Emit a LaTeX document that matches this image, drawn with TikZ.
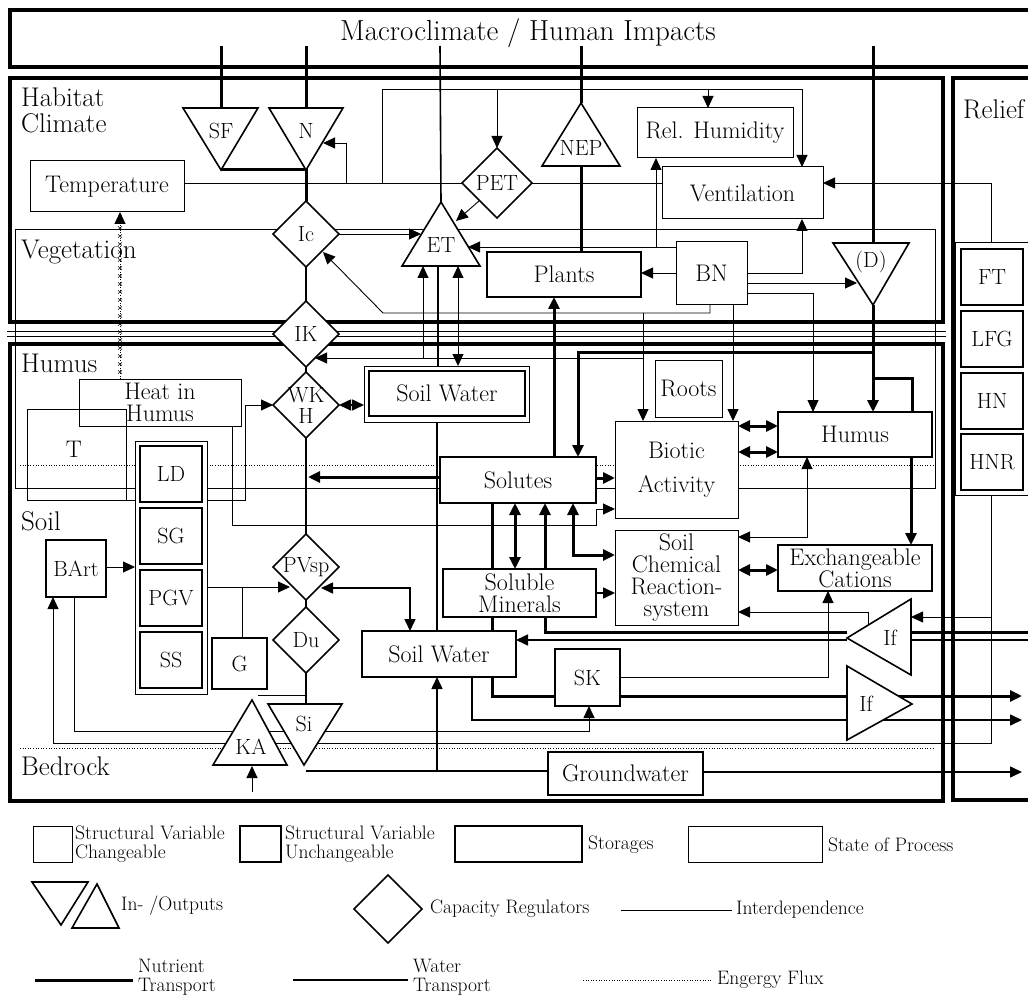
\documentclass[tikz,border=0pt]{standalone}
\usetikzlibrary{arrows.meta,shapes.geometric}
\pgfdeclarelayer{frame}
\pgfdeclarelayer{wires}
\pgfsetlayers{frame,wires,main}
\newcommand\fsmac{\fontsize{29}{30}\selectfont}
\newcommand\fsreg{\fontsize{27}{26}\selectfont}
\newcommand\fsbox{\fontsize{24}{22}\selectfont}
\newcommand\fslab{\fontsize{22}{21}\selectfont}
\newcommand\fsleg{\fontsize{19.5}{18.5}\selectfont}
\tikzset{
  base/.style={inner sep=0pt, outer sep=0pt, align=center, font=\fsbox},
  pbox/.style={base, draw, line width=1pt, fill=white},
  obox/.style={base, draw, line width=1pt},
  sbox/.style={base, draw, line width=2.6pt, fill=white},
  ubox/.style={base, draw, line width=2pt, fill=white},
  lab/.style={inner sep=0pt, font=\fslab, align=center},
  reg/.style={inner sep=0pt, font=\fsreg, anchor=north west, align=left},
  leg/.style={inner sep=0pt, font=\fsleg, anchor=west, align=left},
  dia/.style={draw, diamond, fill=white, line width=1.6pt, minimum width=66pt, minimum height=66pt, inner sep=0pt, outer sep=0pt},
  shp/.style={draw, fill=white, line width=1.6pt},
  nut/.style={line width=3pt},
  wat/.style={line width=1.6pt},
  vln/.style={line width=1.3pt},
  itd/.style={line width=0.9pt},
  frm/.style={line width=3.6pt},
  en/.style={line width=0.9pt, dash pattern=on 0.9pt off 1.7pt},
}
\begin{document}
\begin{tikzpicture}[x=1pt,y=-1pt,>={Triangle[length=12pt,width=11pt]},line join=miter]
\useasboundingbox (0,0) rectangle (1028,1000);

% ---------------- frames ----------------
\begin{pgfonlayer}{frame}
\fill[white] (0,0) rectangle (1028,1000);
\draw[frm] (10,10) rectangle (1040,67);
\draw[frm] (10,78) rectangle (943,322);
\draw[frm] (953,78) rectangle (1040,800);
\draw[frm] (10,344) rectangle (943,801);
\draw[itd] (15,229) rectangle (935,488);
\draw[itd] (7,331) -- (946,331);
\draw[itd] (7,336) -- (946,336);
\draw[en] (20,465) -- (933,465);
\draw[en] (20,748) -- (935,748);
\end{pgfonlayer}

% ---------------- labels of regions ----------------
\node[base,font=\fsmac] (macro) at (528,33) {Macroclimate / Human Impacts};
\node[reg] (habl) at (21,88) {Habitat\\Climate};
\node[reg] (vegl) at (21,240) {Vegetation};
\node[reg] (huml) at (21,354) {Humus};
\node[reg] (soill) at (21,511) {Soil};
\node[reg] (bedl) at (21,757) {Bedrock};
\node[reg] (rell) at (963,99) {Relief};

% ---------------- boxes ----------------
\node[pbox, minimum width=154, minimum height=51] (temp) at (107,186.5) {Temperature};
\node[pbox, minimum width=156, minimum height=50] (relh) at (715,133) {Rel. Humidity};
\node[pbox, minimum width=161, minimum height=52] (vent) at (742.5,193) {Ventilation};
\node[sbox, minimum width=154, minimum height=45] (plants) at (564,274.5) {Plants};
\node[pbox, minimum width=71, minimum height=63] (bn) at (711.5,273.5) {BN};
\draw[itd, fill=white] (364,366) rectangle (529,422);
\node[ubox, line width=2.2pt, minimum width=156, minimum height=45] (sw1) at (447,393.5) {Soil Water};
\node[obox, minimum width=162, minimum height=47] (heat) at (160,402.5) {Heat in\\Humus};
\node[obox, minimum width=99, minimum height=91] (tbox) at (76.5,454.5) {};
\node[base] (tlab) at (74,449) {T};
\node[pbox, minimum width=67, minimum height=57] (roots) at (688.5,388.5) {Roots};
\node[pbox, line width=1.4pt, minimum width=156, minimum height=46] (sol) at (518,480) {Solutes};
\node[pbox, font=\fontsize{24}{34}\selectfont, minimum width=123, minimum height=97] (bio) at (676.5,469.5) {Biotic\\Activity};
\node[sbox, minimum width=154, minimum height=45] (hum) at (855,434.5) {Humus};
\node[pbox, minimum width=123, minimum height=95] (chem) at (676.5,577.5) {Soil\\Chemical\\Reaction-\\system};
\node[ubox, minimum width=154, minimum height=46] (exch) at (855,568) {Exchangeable\\Cations};
\node[sbox, minimum width=153, minimum height=48] (smin) at (519.5,593) {Soluble\\Minerals};
\node[sbox, minimum width=154, minimum height=46] (sw2) at (439,654) {Soil Water};
\node[ubox, minimum width=65, minimum height=57, font=\fslab] (sk) at (587.5,677.5) {SK};
\node[sbox, minimum width=155, minimum height=43] (gw) at (625.5,773.5) {Groundwater};
\node[ubox, line width=1.5pt, minimum width=60, minimum height=57, font=\fslab] (bart) at (76,568.5) {BArt};
\node[ubox, line width=1.5pt, minimum width=55, minimum height=51, font=\fslab] (g) at (239.5,663.5) {G};
\node[pbox, minimum width=72, minimum height=253] (col) at (171,567.5) {};
\node[ubox, minimum width=62, minimum height=56, font=\fslab] (ld) at (171,474) {LD};
\node[ubox, minimum width=62, minimum height=56, font=\fslab] (sg) at (171,536) {SG};
\node[ubox, minimum width=62, minimum height=56, font=\fslab] (pgv) at (171,598) {PGV};
\node[ubox, minimum width=62, minimum height=56, font=\fslab] (ss) at (171,660) {SS};
\node[pbox, minimum width=80, minimum height=252] (rcol) at (995,369) {};
\node[ubox, minimum width=62, minimum height=56, font=\fslab] (ft) at (992,277) {FT};
\node[ubox, minimum width=62, minimum height=56, font=\fslab] (lfg) at (992,339) {LFG};
\node[ubox, minimum width=62, minimum height=56, font=\fslab] (hn) at (992,401) {HN};
\node[ubox, minimum width=62, minimum height=56, font=\fslab] (hnr) at (992,462) {HNR};

% ---------------- diamonds ----------------
\node[dia, minimum width=70, minimum height=70] (pet) at (497,183) {};
\node[lab] (petl) at (pet) {PET};
\node[dia] (ic) at (306,234) {};
\node[lab] (icl) at (ic) {Ic};
\node[dia] (ik) at (306,334) {};
\node[lab] (ikl) at (ik) {IK};
\node[dia] (wkh) at (306,405) {};
\node[lab] (wkhl) at (wkh) {WK\\H};
\node[dia] (pvsp) at (306,567) {};
\node[lab] (pvspl) at (pvsp) {PVsp};
\node[dia] (du) at (306,640) {};
\node[lab] (dul) at (du) {Du};

% ---------------- triangles ----------------
\draw[shp] (183,108) -- (258,108) -- (221,170) -- cycle; \node[lab] (sf) at (221,131) {SF};
\draw[shp] (269,108) -- (343,108) -- (306,170) -- cycle; \node[lab] (nn) at (306,131) {N};
\draw[shp] (581,103) -- (620,166) -- (542,166) -- cycle; \node[lab] (nep) at (581,148) {NEP};
\draw[shp] (441,202) -- (480,266) -- (402,266) -- cycle; \node[lab] (et) at (441,245) {ET};
\draw[shp] (833,243) -- (909,243) -- (873,305) -- cycle; \node[lab] (dd) at (871,262) {(D)};
\draw[shp] (847,638) -- (911,599) -- (911,675) -- cycle; \node[lab] (ifa) at (890,638) {If};
\draw[shp] (847,666) -- (912,704) -- (847,740) -- cycle; \node[lab] (ifb) at (866,704) {If};
\draw[shp] (252,700) -- (287,765) -- (213,765) -- cycle; \node[lab] (ka) at (251,747) {KA};
\draw[shp] (268,704) -- (342,704) -- (304,765) -- cycle; \node[lab] (si) at (304,724) {Si};

\coordinate (topsf) at (221,46);
\coordinate (topn) at (306,46);
\coordinate (topet) at (440,46);
\coordinate (topnep) at (581,46);
\coordinate (topd) at (873,46);

% ---------------- connectors ----------------
\begin{pgfonlayer}{wires}
% inputs from macroclimate
\draw[nut] (topsf) -- (221,108);
\draw[nut] (topn) -- (306,108);
\draw[wat] (topet) -- (441,202);
\draw[nut] (topnep) -- (581,103);
\draw[nut] (topd) -- (873,243);
\draw[nut] (221,170) -- (306,170) -- (ic.north);
\draw[vln] (ic.south) -- (ik.north);
\draw[vln] (ik.south) -- (wkh.north);
\draw[vln] (wkh.south) -- (pvsp.north);
\draw[vln] (pvsp.south) -- (du.north);
\draw[vln] (du.south) -- (306,704);
\draw[nut] (581,166) -- (581,252);
% temperature network
\draw[itd] (184,183) -- (pet.west);
\draw[itd,->] (346,183) -- (346,143) -- (323,143);
\draw[itd,->] (382,183) -- (382,89) -- (802,89) -- (802,167);
\draw[itd,->] (497,89) -- (pet.north);
\draw[itd,->] (708,89) -- (708,108);
\draw[itd] (pet.east) -- (662,183);
\draw[itd,->] (479,201) -- (456,221);
\draw[itd,->] (ic.east) -- (421,234);
% BN network
\draw[itd,->] (676,247) -- (468,247);
\draw[itd,->] (656,247) -- (656,158);
\draw[itd,->] (676,273) -- (641,273);
\draw[itd,->] (747,273) -- (802,273) -- (802,219);
\draw[itd,->] (747,283) -- (857,283);
\draw[itd,->] (747,293) -- (813,293) -- (813,412);
\draw[itd,->] (733,305) -- (733,421);
\draw[itd,->] (710,305) -- (710,313) -- (383,313) -- (323,252);
\draw[itd,->] (643,313) -- (643,421);
\draw[itd,->] (643,358) -- (315,358);
\draw[itd,->] (423,358) -- (423,266);
% soil water in humus
\draw[wat] (438,266) -- (438,366);
\draw[wat] (437,422) -- (437,631);
\draw[itd,<->] (458,266) -- (458,366);
\draw[wat,<->] (wkh.east) -- (364,405);
% energy flux
\draw[en,->] (120,379) -- (120,212);
\foreach \yy in {220,228,...,372} {\draw[line width=0.5pt] (118,\yy-1.6) -- (122,\yy+1.6) (118,\yy+1.6) -- (122,\yy-1.6);}
\draw[itd,->] (126,500) -- (245,500) -- (245,405) -- (wkh.west);
\draw[itd,->] (232,426) -- (232,525) -- (596,525) -- (596,509) -- (615,509);
% nutrients
\draw[nut,->] (440,477) -- (308,477);
\draw[nut,->] (554,457) -- (554,297);
\draw[nut,->] (873,305) -- (873,412);
\draw[nut,->] (873,352) -- (578,352) -- (578,457);
\draw[nut] (912,412) -- (912,378) -- (873,378);
\draw[nut,->] (596,478) -- (615,478);
\draw[nut,<->] (738,426) -- (778,426);
\draw[nut,<->] (738,452) -- (778,452);
\draw[itd,<->] (738,537) -- (807,537) -- (807,457);
\draw[nut,->] (911,457) -- (911,545);
\draw[nut,<->] (738,570) -- (778,570);
\draw[nut,<->] (515,503) -- (515,569);
\draw[nut,->] (847,632) -- (545,632) -- (545,503);
\draw[nut,<->] (573,503) -- (573,555) -- (615,555);
\draw[wat,->] (596,593) -- (615,593);
\draw[nut,->] (492,503) -- (492,696) -- (1022,696);
\draw[wat,->] (472,677) -- (472,720) -- (1022,720);
\draw[itd,->] (74,597) -- (74,731) -- (589,731) -- (589,706);
\draw[itd,->] (991,495) -- (991,743) -- (53,743) -- (53,597);
\draw[itd,->] (991,617) -- (911,617);
\draw[itd,->] (868,625) -- (868,612) -- (738,612);
\draw[itd,->] (620,677) -- (828,677) -- (828,591);
\draw[nut] (1030,632) -- (911,632);
\draw[wat] (1030,640) -- (911,640);
\draw[wat,->] (847,640) -- (516,640);
\draw[wat,<->] (321,588) -- (410,588) -- (410,631);
\draw[itd,->] (207,587) -- (290,587);
\draw[itd] (242,587) -- (242,638);
\draw[itd,->] (106,567) -- (135,567);
\draw[itd] (258,695) -- (306,695);
\draw[wat] (306,771) -- (548,771);
\draw[wat,->] (437,771) -- (437,677);
\draw[wat,->] (703,772) -- (1022,772);
\draw[itd,->] (252,792) -- (252,766);
\draw[itd,->] (991,243) -- (991,183) -- (823,183);
\end{pgfonlayer}

% ---------------- legend ----------------
\node[obox, minimum width=39, minimum height=36] (lg1) at (52.5,844) {};
\node[leg] (lg1t) at (75,844) {Structural Variable\\Changeable};
\node[ubox, minimum width=41, minimum height=36] (lg2) at (260.5,844) {};
\node[leg] (lg2t) at (285,844) {Structural Variable\\Unchangeable};
\node[sbox, minimum width=127, minimum height=36] (lg3) at (518.5,844) {};
\node[leg] (lg3t) at (588,845) {Storages};
\node[obox, minimum width=134, minimum height=36] (lg4) at (755,844) {};
\node[leg] (lg4t) at (828,845) {State of Process};
\draw[shp] (32,882) -- (88,882) -- (61,925) -- cycle;
\draw[shp] (97,884) -- (119,928) -- (72,928) -- cycle;
\node[leg] (lg5t) at (121,906) {In- /Outputs};
\node[dia, minimum width=68, minimum height=68] (lg6) at (388,909) {};
\node[leg] (lg6t) at (430,909) {Capacity Regulators};
\draw[itd] (621,910) -- (732,910);
\node[leg] (lg7t) at (736,910) {Interdependence};
\draw[nut] (35,980) -- (133,980);
\node[leg] (lg8t) at (138,977) {Nutrient\\Transport};
\draw[wat] (293,980) -- (408,980);
\node[leg] (lg9t) at (413,977) {Water\\Transport};
\draw[en] (583,980) -- (712,980);
\node[leg] (lg10t) at (717,980) {Engergy Flux};
\end{tikzpicture}
\end{document}
